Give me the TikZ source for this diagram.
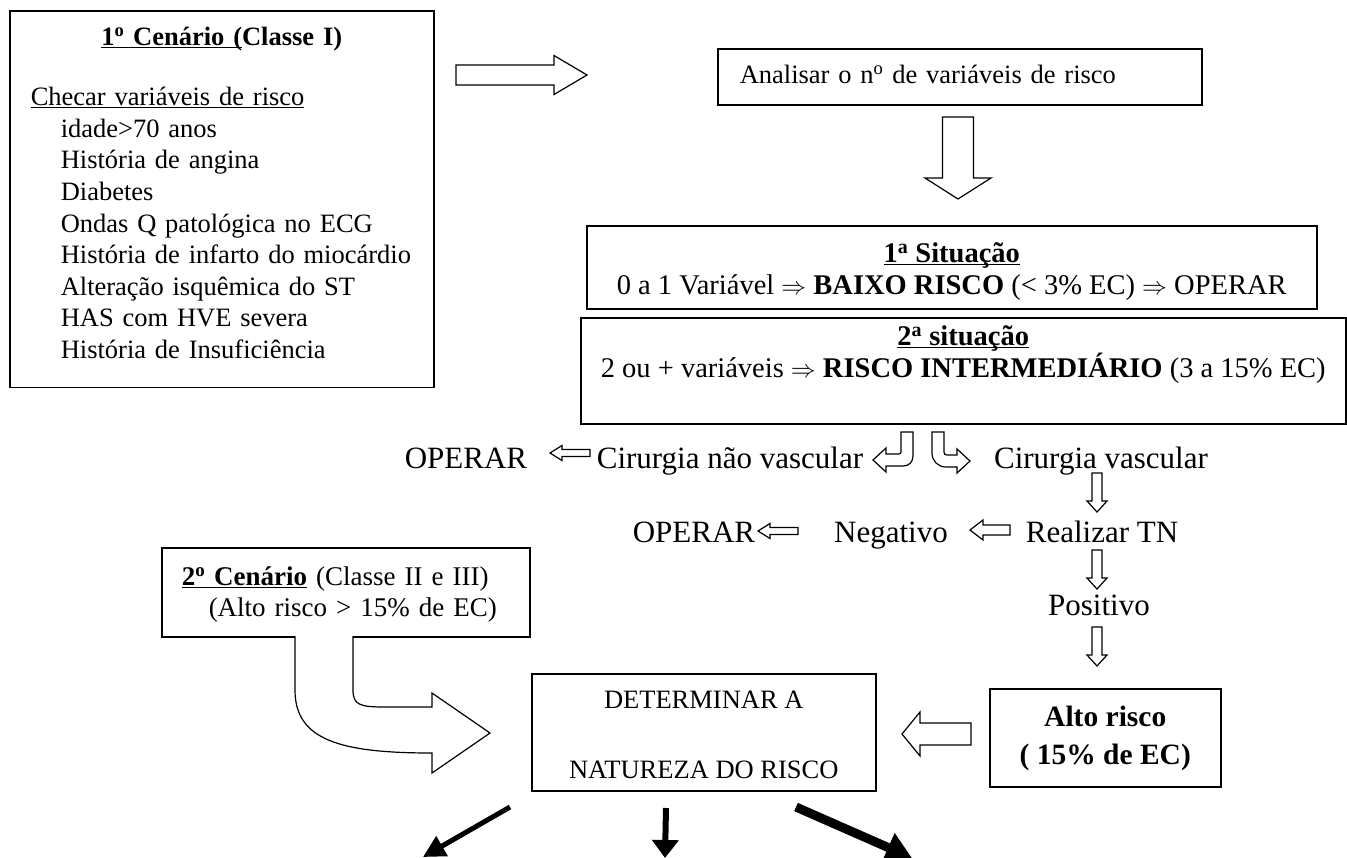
\documentclass[tikz,border=0pt]{standalone}
\usepackage{fontspec}
\setmainfont{Liberation Serif}
\usetikzlibrary{arrows.meta}

\newcommand{\sublinha}[1]{\underline{\smash{#1}}}

\begin{document}
\begin{tikzpicture}[x=1pt, y=-1pt, >=Stealth]

\tikzset{
  caixa/.style={draw, line width=1.5pt, inner xsep=20pt, inner ysep=0pt, anchor=north west},
  oca/.style={draw, line width=1.2pt, fill=white},
  preta/.style n args={3}{line width=#1, -{Triangle[length=#2, width=#3]}},
  fa/.style={font=\fontsize{26.5}{31.6}\selectfont},
  fb/.style={font=\fontsize{28.5}{32}\selectfont},
  fc/.style={font=\fontsize{31}{36}\selectfont},
  pics/bloco/.style n args={4}{code={
    \draw[oca] (0,-#2) -- ({#1-#4},-#2) -- ({#1-#4},-#3) -- (#1,0)
      -- ({#1-#4},#3) -- ({#1-#4},#2) -- (0,#2) -- cycle;
  }}
}

\useasboundingbox (0,0) rectangle (1347,857);

% --- Caixas ---
% 1o cenario com as variaveis de risco
\node[caixa, fa, text width=382pt, inner xsep=21pt, align=left] (cen1) at (9,10) {%
  {\centering\rule{0pt}{35pt}\textbf{\sublinha{1\textsuperscript{o} Cenário (}Classe I)}\par}
  \vspace{28.4pt}
  \sublinha{Checar variáveis de risco}\par
  \leftskip=30pt
  idade>70 anos\par
  História de angina\par
  Diabetes\par
  Ondas Q patológica no ECG\par
  História de infarto do miocárdio\par
  Alteração isquêmica do ST\par
  HAS com HVE severa\par
  História de Insuficiência\rule[-29pt]{0pt}{29pt}\par};

\node[caixa, fa, text width=440pt, inner xsep=22pt, align=left, text height=35pt, text depth=21pt] (ana) at (717,48)
  {Analisar o n\textsuperscript{o} de variáveis de risco};

% Situacoes
\node[caixa, fb, minimum width=730pt, inner xsep=0pt, align=center] (sit1) at (586,225) {%
  \rule{0pt}{37pt}\textbf{\sublinha{1\textsuperscript{a} Situação}}\\
  0 a 1 Variável $\Rightarrow$ \textbf{BAIXO RISCO} (< 3\% EC) $\Rightarrow$ OPERAR\rule[-14pt]{0pt}{14pt}};

\node[caixa, fb, minimum width=765pt, inner xsep=0pt, align=center] (sit2) at (580,317) {%
  \rule{0pt}{28pt}\textbf{\sublinha{2\textsuperscript{a} situação}}\\
  2 ou + variáveis $\Rightarrow$ \textbf{RISCO INTERMEDIÁRIO} (3 a 15\% EC)\rule[-46pt]{0pt}{46pt}};

% 2o cenario
\node[caixa, font=\fontsize{27}{31}\selectfont, text width=328pt, align=left] (cen2) at (161,547) {%
  \rule{0pt}{38pt}\textbf{\sublinha{2\textsuperscript{o} Cenário}} (Classe II e III)\\
  \hspace*{27pt}(Alto risco > 15\% de EC)\rule[-20pt]{0pt}{20pt}};

\node[caixa, fa, minimum width=344pt, inner xsep=0pt, align=center] (det) at (531,673) {%
  \rule{0pt}{35pt}DETERMINAR A\\[38.4pt]
  NATUREZA DO RISCO\rule[-12pt]{0pt}{12pt}};

\node[caixa, font=\fontsize{29.5}{38}\selectfont\bfseries, minimum width=231pt, inner xsep=0pt, align=center] (alto) at (989,688) {%
  \rule{0pt}{38pt}Alto risco\\
  ( 15\% de EC)\rule[-22pt]{0pt}{22pt}};

% --- Textos soltos ---
\node[fc, anchor=base] (op1) at (466,468) {OPERAR};
\node[fc, anchor=base] (cnv) at (730,468) {Cirurgia não vascular};
\node[fc, anchor=base] (cv)  at (1101,468) {Cirurgia vascular};
\node[fc, anchor=base] (op2) at (694,542) {OPERAR};
\node[fc, anchor=base] (neg) at (891,542) {Negativo};
\node[fc, anchor=base] (rtn) at (1102,542) {Realizar TN};
\node[fc, anchor=base] (pos) at (1099,615) {Positivo};

% --- Setas vazadas ---
\pic at (456,75) {bloco={131}{10}{19.5}{33}};
\pic[rotate=-90] at (958,117) {bloco={82}{15.5}{33}{21}};

\pic[rotate=180] at (590,453) {bloco={40}{3.5}{7.5}{12}};
\pic[rotate=180] at (798,531) {bloco={40}{3.5}{7.5}{12}};
\pic[rotate=180] at (1010,530) {bloco={40}{5}{10}{13}};

\pic[rotate=-90] at (1097,473) {bloco={39}{5}{10}{11}};
\pic[rotate=-90] at (1097,550) {bloco={39}{5}{10}{11}};
\pic[rotate=-90] at (1097,627) {bloco={39}{5}{10}{11}};

\pic[rotate=180] at (971,734) {bloco={69}{11}{22}{18}};

% Setas curvas pequenas
\draw[oca] (901,432) -- (913,432) -- (913,456) .. controls (913,462) and (909,466) .. (903,466)
  -- (886,466) -- (886,472) -- (873,460) -- (886,448) -- (886,454) -- (899,454)
  .. controls (900,454) and (901,453) .. (901,452) -- cycle;
\draw[oca] (932,432) -- (944,432) -- (944,452) .. controls (944,454) and (945,455) .. (947,455)
  -- (957,455) -- (957,449) -- (970,461) -- (957,473) -- (957,467) -- (946,467)
  .. controls (938,467) and (932,461) .. (932,453) -- cycle;

% Seta curva grande do 2o cenario
\draw[oca] (295,636) -- (295,690) .. controls (295,740) and (340,753) .. (432,753)
  -- (432,773) -- (490,733) -- (432,693) -- (432,707) -- (385,707)
  .. controls (360,707) and (353,705) .. (353,690) -- (353,636);

% --- Setas pretas ---
\coordinate (b1a) at (510,807);
\coordinate (b1b) at (423,857);
\coordinate (b2a) at (666,808);
\coordinate (b2b) at (665,858);
\coordinate (b3a) at (796,807);
\coordinate (b3b) at (912,858);
\draw[preta={5pt}{22pt}{22pt}] (b1a) -- (b1b);
\draw[preta={6pt}{18pt}{26pt}] (b2a) -- (b2b);
\draw[preta={9pt}{26pt}{30pt}] (b3a) -- (b3b);

\end{tikzpicture}
\end{document}
